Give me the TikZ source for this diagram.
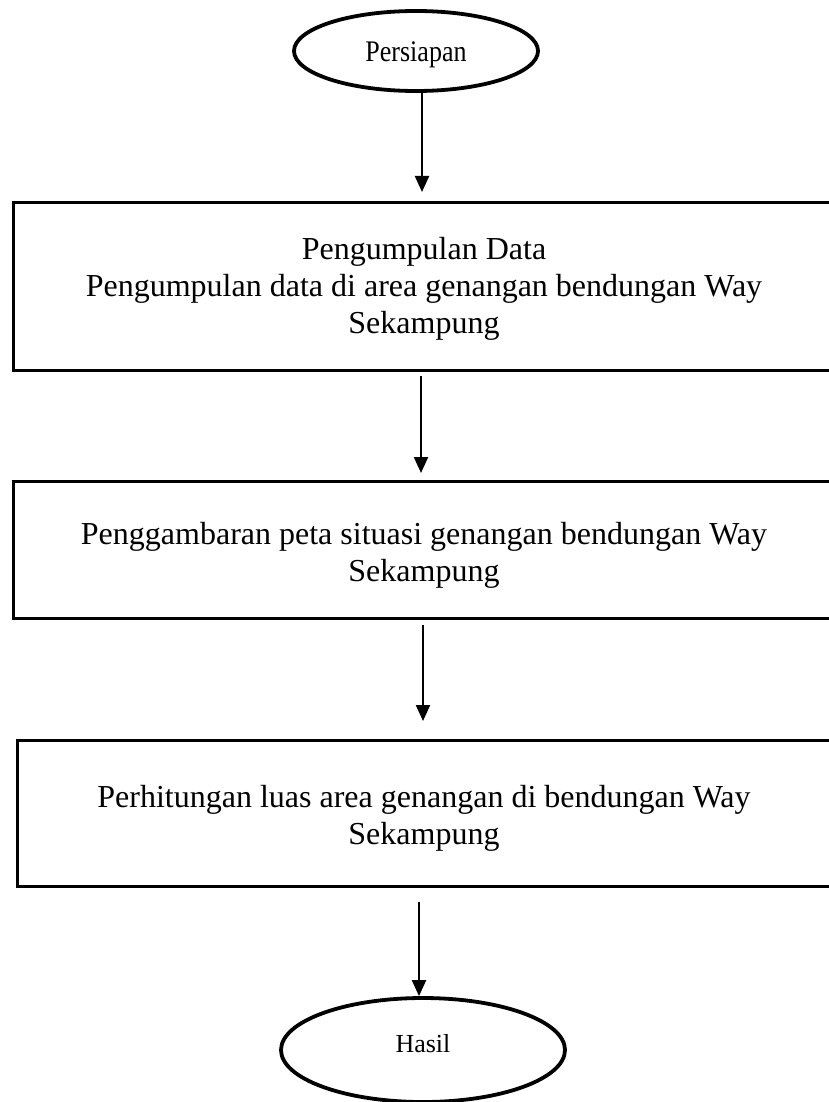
\documentclass[tikz,border=0pt]{standalone}
\usepackage{fontspec}
\setmainfont{Liberation Serif}
\usetikzlibrary{arrows.meta,shapes.geometric}
\tikzset{
  stepbox/.style={draw, line width=3pt, rectangle, anchor=north west, minimum width=830pt, inner sep=0pt},
  boxtext/.style={align=center, inner sep=0pt, font=\fontsize{32}{37}\selectfont},
  term/.style={draw, line width=3.8pt, ellipse, inner sep=0pt},
  termtext/.style={inner sep=0pt, font=\fontsize{26}{30}\selectfont},
  arr/.style={line width=2.2pt, -{Triangle[length=16pt,width=14pt]}}
}
\begin{document}
\begin{tikzpicture}[x=1pt,y=-1pt]
\useasboundingbox (0,0) rectangle (829,1102);
\clip (0,0) rectangle (829,1102);
% terminals
\node[term, minimum width=244pt, minimum height=80pt] (e1) at (416,51) {};
\node[termtext] (e1t) at ([yshift=-4pt]e1.center) {\scalebox{1}[1.15]{Persiapan}};
\node[term, minimum width=284pt, minimum height=104pt] (e2) at (423,1050) {};
\node[termtext] (e2t) at ([yshift=6pt]e2.center) {Hasil};
% process boxes
\node[stepbox, minimum height=168pt] (b1) at (12,201) {};
\node[boxtext] (b1t) at ([xshift=8pt,yshift=-2pt]b1.center -| e1.center) {Pengumpulan Data\\Pengumpulan data di area genangan bendungan Way\\Sekampung};
\node[stepbox, minimum height=137pt] (b2) at (12,480) {};
\node[boxtext] (b2t) at ([xshift=8pt,yshift=-5.5pt]b2.center -| e1.center) {Penggambaran peta situasi genangan bendungan Way\\Sekampung};
\node[stepbox, minimum height=146pt] (b3) at (16,739) {};
\node[boxtext] (b3t) at ([xshift=8pt,yshift=-4.5pt]b3.center -| e1.center) {Perhitungan luas area genangan di bendungan Way\\Sekampung};
% connectors
\draw[arr, shorten >=9pt] ([xshift=6pt]e1.south) -- ([xshift=6pt]e1.south |- b1.north);
\draw[arr, shorten <=4pt, shorten >=7pt] ([xshift=5pt]e1.south |- b1.south) -- ([xshift=5pt]e1.south |- b2.north);
\draw[arr, shorten <=5pt, shorten >=18pt] ([xshift=7pt]e1.south |- b2.south) -- ([xshift=7pt]e1.south |- b3.north);
\draw[arr, shorten <=14pt] ([xshift=-4pt]e2.north |- b3.south) -- ([xshift=-4pt]e2.north);
\end{tikzpicture}
\end{document}
